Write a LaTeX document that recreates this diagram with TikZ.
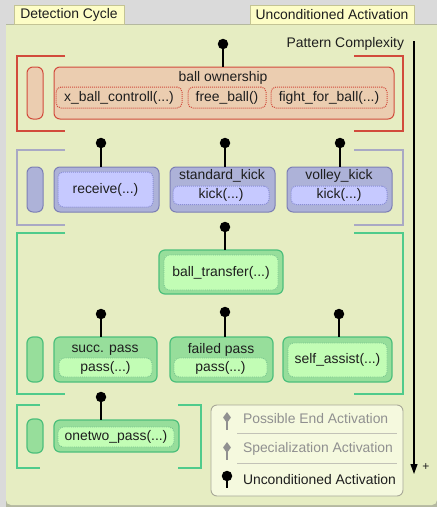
\documentclass[tikz,border=0pt]{standalone}
\usepackage{fontspec}
\setmainfont{Liberation Sans}
\usetikzlibrary{arrows.meta,shapes.geometric}
\definecolor{bggray}{HTML}{DADADA}
\definecolor{panelc}{HTML}{E6EDC2}
\definecolor{panelb}{HTML}{B4B8A0}
\definecolor{tabf}{HTML}{FDFDC6}
\definecolor{tabb}{HTML}{C4C494}
\definecolor{redl}{HTML}{D24B3C}
\definecolor{redf}{HTML}{EBCDB0}
\definecolor{bluebr}{HTML}{A9A9C4}
\definecolor{bluef}{HTML}{ADB2D8}
\definecolor{blueb}{HTML}{7C7FB5}
\definecolor{bluein}{HTML}{C6C9FF}
\definecolor{blued}{HTML}{8A8ED6}
\definecolor{greenbr}{HTML}{4FCB8C}
\definecolor{greenf}{HTML}{97DE9B}
\definecolor{greenb}{HTML}{4CBF7B}
\definecolor{greenin}{HTML}{C2FDB5}
\definecolor{greend}{HTML}{78C48E}
\definecolor{legf}{HTML}{F5F9DE}
\definecolor{legb}{HTML}{A8A898}
\definecolor{greytxt}{HTML}{909090}
\definecolor{txt}{HTML}{1E1E1E}
\newcommand{\mkbox}[7]{%
  \node[#1, minimum width={(#5-#3)*1pt}, minimum height={(#6-#4)*1pt}] (#2) at ({(#3+#5)/2},{(#4+#6)/2}) {#7};}
\tikzset{
  base/.style={inner sep=0pt, outer sep=0pt, text=txt},
  redbox/.style={base, rounded corners=6pt, draw=redl, fill=redf, line width=1pt},
  redin/.style={base, rounded corners=5pt, draw=redl, fill=redf, densely dotted, line width=1pt},
  bluebox/.style={base, rounded corners=6pt, draw=blueb, fill=bluef, line width=1pt},
  bluein/.style={base, rounded corners=5pt, draw=blued, fill=bluein, densely dotted, line width=1pt},
  greenbox/.style={base, rounded corners=6pt, draw=greenb, fill=greenf, line width=1.2pt},
  greenin/.style={base, rounded corners=5pt, draw=greend, fill=greenin, densely dotted, line width=0.9pt},
  tab/.style={base, draw=tabb, fill=tabf, line width=0.8pt},
  pindot/.style={circle, fill=black, inner sep=0pt, minimum size=10.5pt},
  pinline/.style={line width=1.1pt},
  gpin/.style={diamond, fill=greytxt, inner sep=0pt, minimum width=8pt, minimum height=11pt},
  brk/.style={line width=1.1pt},
  ttl/.style={base}
}
\begin{document}
\begin{tikzpicture}[x=1pt,y=-1pt,font=\fontsize{13.9}{16}\selectfont]
\useasboundingbox (0,0) rectangle (437,507);
\fill[bggray] (0,0) rectangle (437,507);
\fill[panelb] (6,24) rectangle (437,507);
\fill[panelc, rounded corners=5pt] (6,24.8) -- (437,24.8) -- (437,505) -- (6,505) -- cycle;
\fill[panelc] (6,24.8) rectangle (437,40);
\draw[panelb, line width=0.8pt] (6,24.4) -- (437,24.4);
% tabs
\mkbox{tab}{tabdc}{14}{5}{124}{24}{Detection Cycle}
\mkbox{tab}{tabua}{250}{5}{414}{24}{Unconditioned Activation}
% pattern complexity
\node[base, anchor=east] (pc) at (404,44) {Pattern Complexity};
\coordinate (pcs) at (414,41);
\coordinate (pce) at (414,474);
\draw[line width=1.1pt, -{Triangle[length=10pt,width=7pt]}] (pcs) -- (pce);
\node[base] (plus) at (426,467) {\fontsize{12}{12}\selectfont +};
% red group
\draw[redl, brk] (65,56) -- (17,56) -- (17,131) -- (65,131);
\draw[redl, brk] (354,56) -- (403,56) -- (403,131) -- (354,131);
\mkbox{redbox}{rpill}{27}{67}{43}{119}{}
\mkbox{redbox}{own}{54}{67}{394}{119}{}
\node[ttl] (ownt) at (223,78) {ball ownership};
\mkbox{redin}{xbc}{56}{87}{182}{108}{x\_ball\_controll(...)}
\mkbox{redin}{fb}{188}{87}{266}{108}{free\_ball()}
\mkbox{redin}{ffb}{271}{87}{387}{108}{fight\_for\_ball(...)}
\node[pindot] (p0) at (223,44) {};
\draw[pinline] (p0.center) -- (p0.center |- own.north);
% blue group
\draw[bluebr, brk] (65,150) -- (17,150) -- (17,225) -- (65,225);
\draw[bluebr, brk] (354,150) -- (403,150) -- (403,225) -- (354,225);
\mkbox{bluebox}{bpill}{27}{167}{43}{212}{}
\mkbox{bluebox}{recb}{54}{167}{159}{212}{}
\mkbox{bluein}{rec}{58}{172}{153}{207}{receive(...)}
\mkbox{bluebox}{skb}{170}{167}{275}{212}{}
\node[ttl] (skt) at (222,175.5) {standard\_kick};
\mkbox{bluein}{sk}{173}{186}{269}{204.5}{kick(...)}
\mkbox{bluebox}{vkb}{287}{167}{392}{212}{}
\node[ttl] (vkt) at (339,175.5) {volley\_kick};
\mkbox{bluein}{vk}{291}{186}{387}{204.5}{kick(...)}
\node[pindot] (p1) at (101,143) {};
\draw[pinline] (p1.center) -- (p1.center |- recb.north);
\node[pindot] (p2) at (225,143) {};
\draw[pinline] (p2.center) -- (p2.center |- skb.north);
\node[pindot] (p3) at (340,143) {};
\draw[pinline] (p3.center) -- (p3.center |- vkb.north);
% green group
\draw[greenbr, brk] (65,233) -- (17,233) -- (17,394) -- (65,394);
\draw[greenbr, brk] (354,233) -- (403,233) -- (403,394) -- (354,394);
\mkbox{greenbox}{btb}{159}{250}{283}{294}{}
\mkbox{greenin}{bt}{164}{255}{278}{290}{ball\_transfer(...)}
\node[pindot] (p4) at (225,227) {};
\draw[pinline] (p4.center) -- (p4.center |- btb.north);
\mkbox{greenbox}{gpill}{27}{337}{43}{382}{}
\mkbox{greenbox}{spb}{54}{337}{157}{382}{}
\node[ttl] (spt) at (105,350) {succ. pass};
\mkbox{greenin}{sp}{59}{358}{152}{377}{pass(...)}
\mkbox{greenbox}{fpb}{170}{337}{273}{382}{}
\node[ttl] (fpt) at (221,350) {failed pass};
\mkbox{greenin}{fp}{174}{358}{267}{377}{pass(...)}
\mkbox{greenbox}{sab}{283}{337}{392}{382}{}
\mkbox{greenin}{sa}{288}{343}{387}{377}{self\_assist(...)}
\node[pindot] (p5) at (101,314) {};
\draw[pinline] (p5.center) -- (p5.center |- spb.north);
\node[pindot] (p6) at (225,312) {};
\draw[pinline] (p6.center) -- (p6.center |- fpb.north);
\node[pindot] (p7) at (339,314) {};
\draw[pinline] (p7.center) -- (p7.center |- sab.north);
% onetwo group
\draw[greenbr, brk] (40,405) -- (17,405) -- (17,468) -- (40,468);
\draw[greenbr, brk] (178,405) -- (201,405) -- (201,468) -- (178,468);
\mkbox{greenbox}{opill}{27}{419}{43}{453}{}
\mkbox{greenbox}{otb}{54}{420}{179}{452}{}
\mkbox{greenin}{ot}{58}{427}{174}{447}{onetwo\_pass(...)}
\node[pindot] (p8) at (101,397) {};
\draw[pinline] (p8.center) -- (p8.center |- otb.north);
% legend
\mkbox{base}{leg}{211}{405}{403}{496}{}
\draw[legb, fill=legf, line width=0.9pt, rounded corners=6pt] (leg.north west) rectangle (leg.south east);
\node[gpin] (l1) at (227,417.5) {};
\coordinate (l1e) at (227,430);
\draw[greytxt, line width=1.1pt] (l1.center) -- (l1e);
\node[base, anchor=west, text=greytxt] (l1t) at (243,419) {Possible End Activation};
\draw[legb!70, line width=0.7pt] (237,433) -- (397,433);
\node[gpin] (l2) at (227,447.5) {};
\coordinate (l2e) at (227,460);
\draw[greytxt, line width=1.1pt] (l2.center) -- (l2e);
\node[base, anchor=west, text=greytxt] (l2t) at (243,449) {Specialization Activation};
\draw[legb!70, line width=0.7pt] (237,463) -- (397,463);
\node[pindot] (l3) at (227,476) {};
\coordinate (l3e) at (227,488);
\draw[pinline] (l3.center) -- (l3e);
\node[base, anchor=west] (l3t) at (243,480) {Unconditioned Activation};
\end{tikzpicture}
\end{document}
